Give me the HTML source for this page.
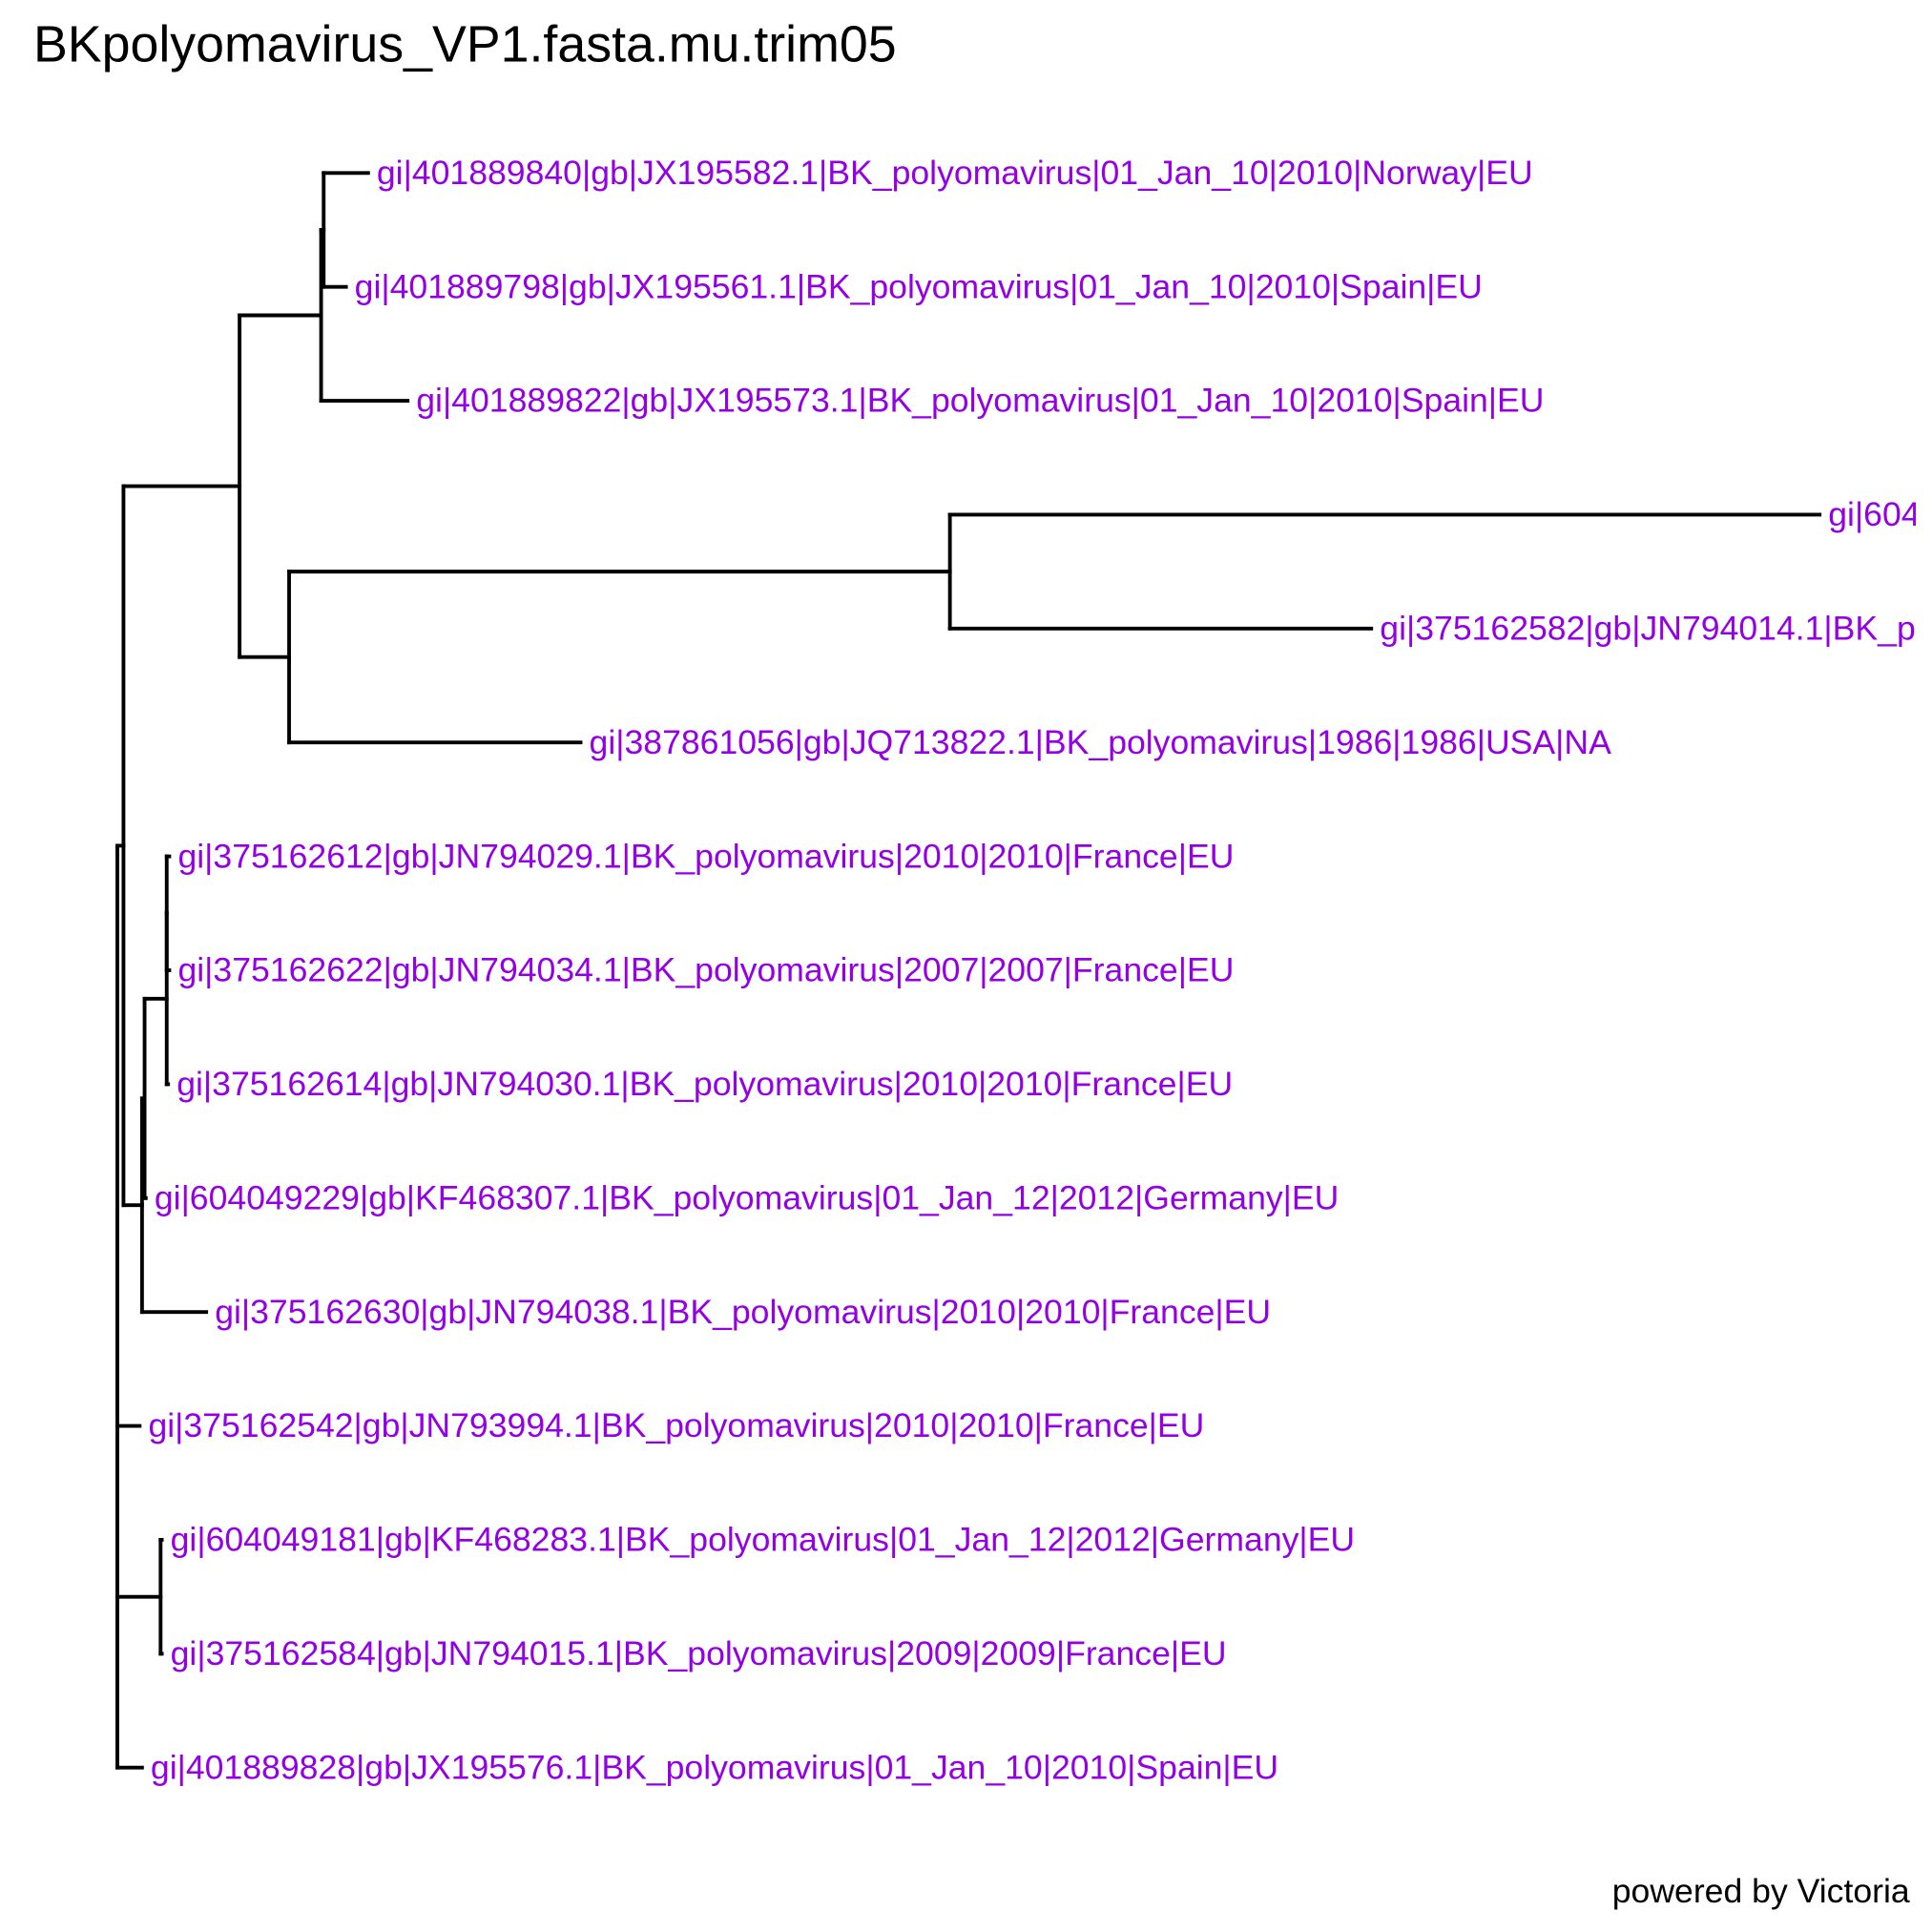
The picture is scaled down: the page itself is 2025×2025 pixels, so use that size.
<!DOCTYPE html>
<html><head><meta charset="utf-8"><style>html,body{margin:0;padding:0;background:#fff}svg{display:block}</style></head>
<body>
<svg id="chart" width="2025" height="2025" viewBox="0 0 1564 1564" xmlns="http://www.w3.org/2000/svg" font-family="'Liberation Sans', Arial, sans-serif">
<rect width="1564" height="1564" fill="#fff"/>
<defs><clipPath id="clip"><rect x="0" y="0" width="1551" height="1564"/></clipPath></defs>
<text x="27" y="50" font-size="41.5" fill="#000">BKpolyomavirus_VP1.fasta.mu.trim05</text>
<text x="1546" y="1540" font-size="27.5" fill="#000" text-anchor="end">powered by Victoria</text>
<g id="tree" clip-path="url(#clip)"></g>
</svg>
<script>
// node ids, parent ids, depths (branch-length units), tip labels ('' = internal)
const nodeIds = ['root','A','top','N260','N262','t1','t2','t3','N234','N769','t4','t5','t6','C','E','D','F','t7','t8','t9','t10','t11','t12','G','t13','t14','t15'];
const parents = [null,'root','A','top','N260','N262','N262','N260','top','N234','N769','N769','N234','A','C','E','D','F','F','D','E','C','root','root','G','G','root'];
const depths = [0,0.0036,0.0718,0.1197,0.1212,0.1473,0.1343,0.1705,0.1009,0.4891,1.0,0.7366,0.2721,0.0145,0.016,0.029,0.029,0.0305,0.0305,0.0298,0.0167,0.0522,0.0131,0.0254,0.0261,0.0261,0.0145];
const labels = ['','','','','','gi|401889840|gb|JX195582.1|BK_polyomavirus|01_Jan_10|2010|Norway|EU','gi|401889798|gb|JX195561.1|BK_polyomavirus|01_Jan_10|2010|Spain|EU','gi|401889822|gb|JX195573.1|BK_polyomavirus|01_Jan_10|2010|Spain|EU','','','gi|604049231|gb|KF468308.1|BK_polyomavirus|01_Jan_12|2012|Germany|EU','gi|375162582|gb|JN794014.1|BK_polyomavirus|2010|2010|France|EU','gi|387861056|gb|JQ713822.1|BK_polyomavirus|1986|1986|USA|NA','','','','','gi|375162612|gb|JN794029.1|BK_polyomavirus|2010|2010|France|EU','gi|375162622|gb|JN794034.1|BK_polyomavirus|2007|2007|France|EU','gi|375162614|gb|JN794030.1|BK_polyomavirus|2010|2010|France|EU','gi|604049229|gb|KF468307.1|BK_polyomavirus|01_Jan_12|2012|Germany|EU','gi|375162630|gb|JN794038.1|BK_polyomavirus|2010|2010|France|EU','gi|375162542|gb|JN793994.1|BK_polyomavirus|2010|2010|France|EU','','gi|604049181|gb|KF468283.1|BK_polyomavirus|01_Jan_12|2012|Germany|EU','gi|375162584|gb|JN794015.1|BK_polyomavirus|2009|2009|France|EU','gi|401889828|gb|JX195576.1|BK_polyomavirus|01_Jan_10|2010|Spain|EU'];
// tip order top-to-bottom
const tipOrder = ['t1','t2','t3','t4','t5','t6','t7','t8','t9','t10','t11','t12','t13','t14','t15'];

const NS='http://www.w3.org/2000/svg';
const g=document.getElementById('tree');
const xScale=d=>95+d*1378;
const yScale=i=>140+i*92.21;
const idx={};nodeIds.forEach((n,i)=>idx[n]=i);
const children={};nodeIds.forEach(n=>children[n]=[]);
nodeIds.forEach((n,i)=>{if(parents[i])children[parents[i]].push(n);});
const yPos={};
tipOrder.forEach((t,i)=>yPos[t]=yScale(i));
function getY(n){if(yPos[n]!==undefined)return yPos[n];const ys=children[n].map(getY);yPos[n]=ys.reduce((a,b)=>a+b,0)/ys.length;return yPos[n];}
getY('root');
function line(x1,y1,x2,y2,name){
  const l=document.createElementNS(NS,'line');
  l.setAttribute('x1',x1);l.setAttribute('y1',y1);l.setAttribute('x2',x2);l.setAttribute('y2',y2);
  l.setAttribute('stroke','#000');l.setAttribute('stroke-width','3');l.setAttribute('stroke-linecap','square');
  
  
  g.appendChild(l);
}
nodeIds.forEach((n,i)=>{
  const p=parents[i];
  if(p){line(xScale(depths[idx[p]]),yPos[n],xScale(depths[i]),yPos[n],'branch-'+n);}
  const ch=children[n];
  if(ch.length){const ys=ch.map(c=>yPos[c]);line(xScale(depths[i]),Math.min(...ys),xScale(depths[i]),Math.max(...ys),'node-connector-'+n);}
  if(labels[i]){
    const t=document.createElementNS(NS,'text');
    t.setAttribute('x',xScale(depths[i])+7);t.setAttribute('y',yPos[n]+9);
    t.setAttribute('font-size','27.5');t.setAttribute('fill','#9400E6');
    
    
    t.textContent=labels[i];g.appendChild(t);
  }
});
</script>
</body></html>
